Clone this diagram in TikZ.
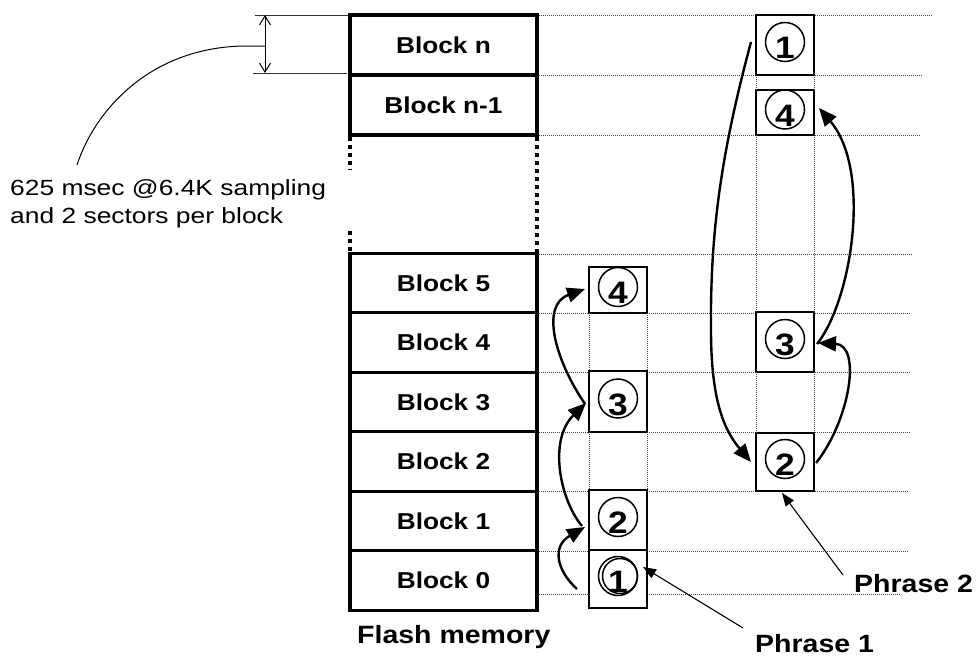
\documentclass[tikz,border=0pt]{standalone}
\usepackage{fontspec}
\setmainfont[FakeStretch=1.14]{Liberation Sans}
\newfontfamily\descfont[FakeStretch=1.2]{Liberation Sans}
\usetikzlibrary{arrows.meta,calc}

\tikzset{
  gridline/.style={line width=0.9pt, draw=black!75, dash pattern=on 1pt off 1pt},
  gap/.style={line width=4pt, dash pattern=on 4pt off 4pt},
  blk/.style={draw, line width=3.2pt, minimum width=187pt, inner sep=0pt,
              font=\fontsize{23}{27}\selectfont\bfseries},
  slot/.style={draw, line width=2.8pt, fill=white, minimum width=58pt, inner sep=0pt},
  ring/.style={circle, draw, line width=1.5pt, minimum size=39pt, inner sep=0pt},
  num/.style={font=\fontsize{31}{34}\selectfont\bfseries, inner sep=0pt},
  flow/.style={line width=2.4pt, -{Triangle[length=18pt,width=15pt]}},
  lead/.style={line width=1.1pt, -{Triangle[length=13pt,width=10pt]}},
  dim/.style={line width=1pt, {Straight Barb[length=9pt,width=11pt]}-{Straight Barb[length=9pt,width=11pt]}},
  label/.style={inner sep=0pt, font=\fontsize{25}{30}\selectfont\bfseries},
}

\begin{document}
\begin{tikzpicture}[x=1pt,y=-1pt]
\useasboundingbox (0,0) rectangle (978,657);

% ---- horizontal grid lines (one per block boundary) ----
\draw[gridline] (537,15)  -- (933,15);
\draw[gridline] (537,75)  -- (923,75);
\draw[gridline] (537,135) -- (920,135);
\draw[gridline] (537,254) -- (912,254);
\draw[gridline] (537,313) -- (910,313);
\draw[gridline] (537,372) -- (910,372);
\draw[gridline] (537,432) -- (910,432);
\draw[gridline] (537,491) -- (908,491);
\draw[gridline] (537,551) -- (908,551);
\draw[gridline] (537,594) -- (900,594);

% ---- flash memory blocks ----
\node[blk, minimum height=60pt]   (bn)  at (443.5,45)    {Block n};
\node[blk, minimum height=60pt]   (bn1) at (443.5,105)   {Block n-1};
\node[blk, minimum height=59.5pt] (b5)  at (443.5,283)   {Block 5};
\node[blk, minimum height=59.5pt] (b4)  at (443.5,342.5) {Block 4};
\node[blk, minimum height=59.5pt] (b3)  at (443.5,402)   {Block 3};
\node[blk, minimum height=59.5pt] (b2)  at (443.5,461.5) {Block 2};
\node[blk, minimum height=59.5pt] (b1)  at (443.5,521)   {Block 1};
\node[blk, minimum height=59.5pt] (b0)  at (443.5,580.5) {Block 0};

% omitted blocks between n-1 and 5
\draw[gap] (350,137) -- (350,170);
\draw[gap] (350,231) -- (350,252);
\draw[gap] (537,137) -- (537,252);

\node[label, anchor=base west] (flash) at (357,643) {Flash memory};

% ---- block-duration dimension ----
\coordinate (dimtop) at (265,15);
\coordinate (dimbot) at (265,73);
\draw[line width=0.9pt, draw=black!80] (255,15) -- (348,15);
\draw[line width=0.9pt, draw=black!80] (253,73) -- (347,73);
\draw[dim] (dimtop) -- (dimbot);
\coordinate (dimmid) at (265,46);
\draw[line width=1pt] (dimmid) -- (243,46) .. controls (150,48) and (95,110) .. (77,165);

\node[inner sep=0pt, anchor=base west, font=\descfont\fontsize{22}{28}\selectfont] (desc1) at (10,195) {625 msec @6.4K sampling};
\node[inner sep=0pt, anchor=base west, font=\descfont\fontsize{22}{28}\selectfont] (desc2) at (10,223) {and 2 sectors per block};

% ---- phrase 1 sector column ----
\node[slot, minimum height=58pt] (q1) at (618,579)   {};
\node[slot, minimum height=60pt] (q2) at (618,520)   {};
\node[slot, minimum height=61pt] (q3) at (618,401.5) {};
\node[slot, minimum height=46pt] (q4) at (618,290)   {};
\draw[gridline] (589,313) -- (589,371);
\draw[gridline] (647,313) -- (647,371);
\draw[gridline] (589,432) -- (589,490);
\draw[gridline] (647,432) -- (647,490);

% ---- phrase 2 sector column ----
\node[slot, minimum height=60pt] (r1) at (785,45)    {};
\node[slot, minimum height=45pt] (r4) at (785,112.5) {};
\node[slot, minimum height=60pt] (r3) at (785,342)   {};
\node[slot, minimum height=58pt] (r2) at (785,462)   {};
\draw[gridline] (756,75)  -- (756,90);
\draw[gridline] (814,75)  -- (814,90);
\draw[gridline] (756,135) -- (756,312);
\draw[gridline] (814,135) -- (814,312);
\draw[gridline] (756,372) -- (756,433);
\draw[gridline] (814,372) -- (814,433);

% numbered rings
\foreach \s/\n in {q2/2, q3/3, q4/4, r1/1, r2/2, r3/3, r4/4} {
  \node[ring] (c\s) at ($(\s.center)+(0,-3)$) {};
  \node[num]  (n\s) at ($(\s.center)+(0,3)$)  {\n};
}
\node[ring] (cq1) at ($(q1.center)+(0,-3)$) {};
\node[ring, minimum size=35pt] (cq1b) at ($(q1.center)+(2,-3)$) {};
\node[num]  (nq1) at ($(q1.center)+(0,3)$) {1};

% ---- recording order, phrase 1 ----
\draw[flow] (577,589) .. controls (556,570) and (552,546) .. (585,527);
\draw[flow] (582,526) .. controls (560,500) and (548,440) .. (586,403);
\draw[flow] (585,404) .. controls (555,360) and (540,305) .. (585,289);

% ---- recording order, phrase 2 ----
\draw[flow] (751,42) .. controls (722,150) and (710,230) .. (711,330)
            .. controls (711,400) and (724,430) .. (751,462);
\draw[flow] (816,463) .. controls (850,420) and (862,345) .. (818,343);
\draw[flow] (817,344) .. controls (852,300) and (872,170) .. (819,108);

% ---- phrase labels ----
\node[label, anchor=base west] (ph1) at (755,652) {Phrase 1};
\node[label, anchor=base west] (ph2) at (854,592) {Phrase 2};
\coordinate (ph1tail) at (743,628);
\coordinate (ph2tail) at (843,575);
\draw[lead] (ph1tail) -- (643,567);
\draw[lead] (ph2tail) -- (782,493);
\end{tikzpicture}
\end{document}
